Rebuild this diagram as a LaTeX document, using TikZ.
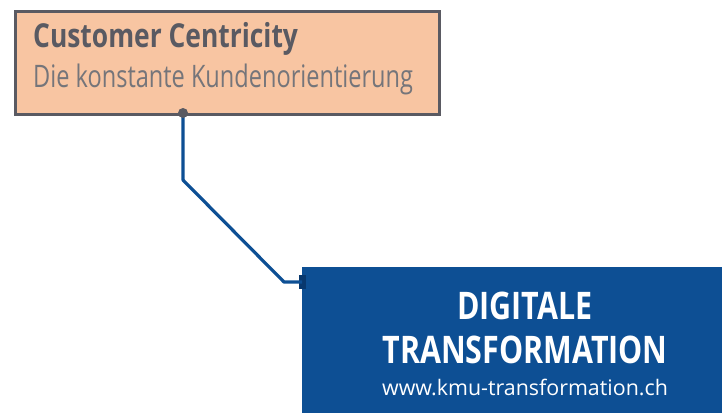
\documentclass[tikz,border=0pt]{standalone}
\usepackage{fontspec}
\usepackage{tikz}
\usetikzlibrary{positioning}
\newfontfamily\condFont{Open Sans}[FakeStretch=0.8]
\newfontfamily\slimFont{Open Sans}[FakeStretch=0.76]
\newfontfamily\urlFont{Open Sans}
\newcommand{\titleSize}[0]{\fontsize{33}{36}\selectfont}
\newcommand{\subSize}[0]{\fontsize{31}{35}\selectfont}
\newcommand{\bigSize}[0]{\fontsize{38}{44}\selectfont}
\newcommand{\urlSize}[0]{\fontsize{21.4}{24}\selectfont}
\definecolor{peach}{HTML}{F8C5A2}
\definecolor{boxgray}{HTML}{5A5A62}
\definecolor{subgray}{HTML}{75757A}
\definecolor{transblue}{HTML}{0D4F94}
\definecolor{darkblue}{HTML}{08386E}

\begin{document}
\begin{tikzpicture}[x=1pt, y=-1pt]
  \tikzset{topic/.style={draw=boxgray, line width=3.2pt, fill=peach, anchor=north west,
      minimum width=424pt, minimum height=103pt, inner sep=0pt},
    mainbox/.style={fill=transblue, anchor=north west, minimum width=420pt,
      minimum height=146pt, inner sep=0pt},
    conn/.style={draw=transblue, line width=3.2pt, line join=round}}
  \useasboundingbox (0,0) rectangle (722,413);
  % topic box
  \node[topic] (CC) at (14,10) {};
  \node[anchor=base west, inner sep=0pt, text=boxgray] (CC-title) at (33,47)
    {\condFont\bfseries\titleSize Customer Centricity};
  \node[anchor=base west, inner sep=0pt, text=subgray] (CC-sub) at (33,87)
    {\slimFont\subSize Die konstante Kundenorientierung};
  % main box
  \node[mainbox] (DT) at (302,267) {};
  \node[anchor=base, inner sep=0pt, text=white] (DT-1) at (525,319)
    {\condFont\bfseries\bigSize DIGITALE};
  \node[anchor=base, inner sep=0pt, text=white] (DT-2) at (525,363)
    {\condFont\bfseries\bigSize TRANSFORMATION};
  \node[anchor=base, inner sep=0pt, text=white] (DT-3) at (525,395)
    {\urlFont\urlSize www.kmu-transformation.ch};
  % connector
  \coordinate (CC-port) at (183,113);
  \node[fill=darkblue, minimum width=7pt, minimum height=14pt, inner sep=0pt] (DT-port) at (302,282) {};
  \draw[conn] (CC-port) -- ++(0,67) -- (284,282) -- (DT-port.center);
  \fill[boxgray] (CC-port) circle (5pt);
\end{tikzpicture}
\end{document}
